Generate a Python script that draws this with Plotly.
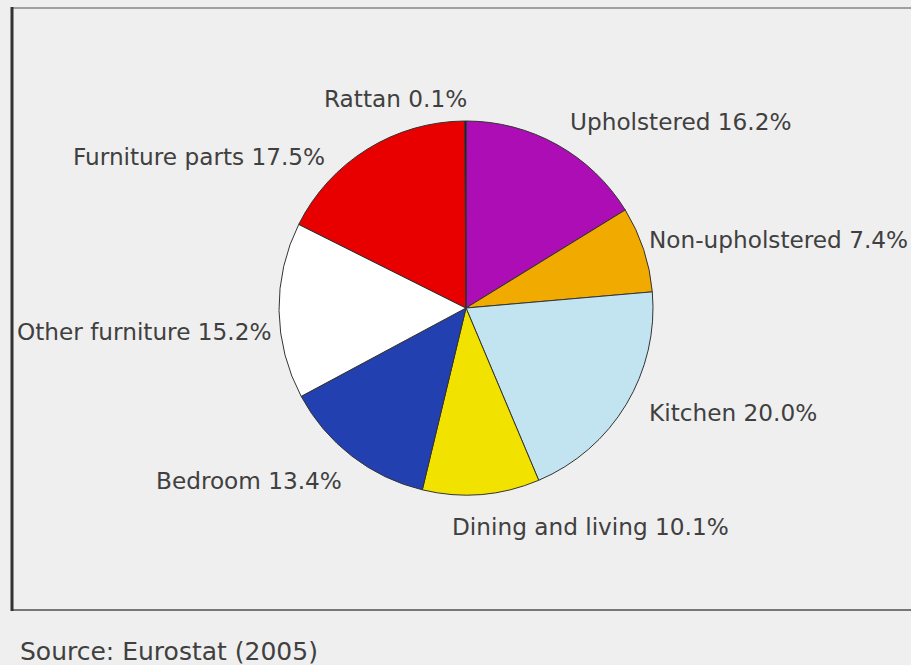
import plotly.graph_objects as go

labels = ["Upholstered", "Non-upholstered", "Kitchen", "Dining and living",
          "Bedroom", "Other furniture", "Furniture parts", "Rattan"]
values = [16.2, 7.4, 20.0, 10.1, 13.4, 15.2, 17.5, 0.1]
colors = ["#AD0DB5", "#F0AA00", "#C2E3F0", "#F2E200",
          "#2340B0", "#FFFFFF", "#E80000", "#000000"]
source_text = "Source: Eurostat (2005)"

# label placement (pixels from top-left): x, y, anchor
label_pos = {
    "Upholstered": (568, 121.5, "left"),
    "Non-upholstered": (647, 239, "left"),
    "Kitchen": (647, 412, "left"),
    "Dining and living": (450, 526, "left"),
    "Bedroom": (344, 480, "right"),
    "Other furniture": (273, 331, "right"),
    "Furniture parts": (327, 156.5, "right"),
    "Rattan": (395, 98.5, "center"),
}

W, H = 911, 665
cx, cy, r = 466, 308, 187

fig = go.Figure(go.Pie(
    labels=labels, values=values, sort=False, direction="clockwise", rotation=0,
    marker=dict(colors=colors, line=dict(color="#333333", width=1)),
    textinfo="none", hoverinfo="label+value", showlegend=False,
    domain=dict(x=[(cx - r) / W, (cx + r) / W], y=[(H - cy - r) / H, (H - cy + r) / H]),
))

shapes = [
    dict(type="rect", xref="paper", yref="paper", x0=12 / W, x1=1.01, y0=1 - 610 / H, y1=1 - 8 / H,
         fillcolor="#EFEFEF", line=dict(width=0), layer="below"),
    dict(type="line", xref="paper", yref="paper", x0=12 / W, x1=1.01, y0=1 - 8 / H, y1=1 - 8 / H,
         line=dict(color="#A0A0A0", width=2)),
    dict(type="line", xref="paper", yref="paper", x0=12 / W, x1=1.01, y0=1 - 610 / H, y1=1 - 610 / H,
         line=dict(color="#777777", width=2)),
    dict(type="line", xref="paper", yref="paper", x0=12 / W, x1=12 / W, y0=1 - 611 / H, y1=1 - 7 / H,
         line=dict(color="#333333", width=3)),
]

annotations = []
for lab, val in zip(labels, values):
    x, y, anc = label_pos[lab]
    annotations.append(dict(
        text=f"{lab} {val:.1f}%", xref="paper", yref="paper", x=x / W, y=1 - y / H,
        xanchor=anc, yanchor="middle", showarrow=False,
        font=dict(family="DejaVu Sans", size=23.2, color="#404040")))
annotations.append(dict(
    text=source_text, xref="paper", yref="paper", x=18 / W, y=1 - 651 / H,
    xanchor="left", yanchor="middle", showarrow=False,
    font=dict(family="DejaVu Sans", size=25, color="#404040")))

fig.update_layout(
    width=W, height=H, margin=dict(l=0, r=0, t=0, b=0),
    paper_bgcolor="#EFEFEF", plot_bgcolor="#EFEFEF",
    shapes=shapes, annotations=annotations,
)

fig.write_html("out.html", config={"displayModeBar": False},
               post_script="document.body.style.margin='0';document.body.style.overflow='hidden';")
